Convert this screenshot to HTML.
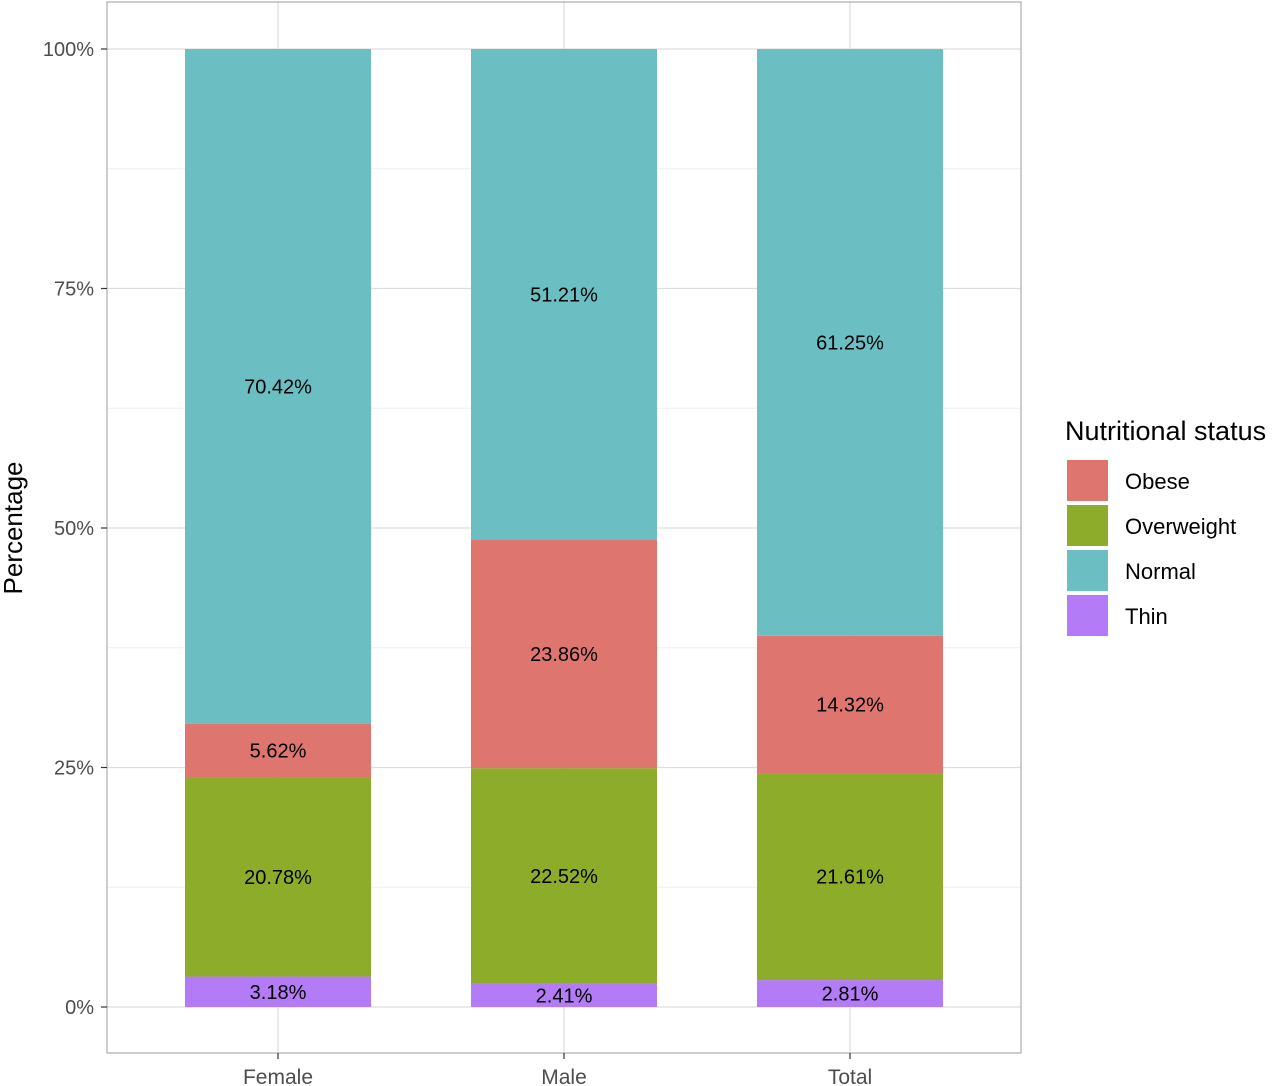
<!DOCTYPE html>
<html><head><meta charset="utf-8"><style>
body{margin:0;background:#fff;}
svg{display:block;font-family:"Liberation Sans",Arial,sans-serif;}
</style></head><body>
<svg id="chart" width="1280" height="1086">
<g id="grid"></g>
<g id="bars"></g>
<rect x="107" y="2" width="914" height="1051" fill="none" stroke="#b3b3b3" stroke-width="1.3"/>
<g id="axes"></g>
<text x="22" y="528" transform="rotate(-90 22 528)" text-anchor="middle" font-size="26" fill="#000">Percentage</text>
<g id="legend">
<text x="1065" y="440" font-size="27" fill="#000">Nutritional status</text>
</g>
</svg>
<script>
const categories=["Female","Male","Total"];
const seriesNames=["Thin","Overweight","Obese","Normal"];
const thin=[3.18,2.41,2.81];
const overweight=[20.78,22.52,21.61];
const obese=[5.62,23.86,14.32];
const normal=[70.42,51.21,61.25];
const yTicks=[0,25,50,75,100];
const yTickLabels=["0%","25%","50%","75%","100%"];
const legendOrder=["Obese","Overweight","Normal","Thin"];
const colors={Thin:"#b37bf5",Overweight:"#8dac2a",Obese:"#de766f",Normal:"#6bbec1"};
const NS="http://www.w3.org/2000/svg";
const y=v=>1007-v*9.58;
const x=i=>278+i*286;
const bw=186;
function mk(tag,attrs,parent){const e=document.createElementNS(NS,tag);for(const k in attrs)e.setAttribute(k,attrs[k]);parent.appendChild(e);return e;}
const grid=document.getElementById('grid'),bars=document.getElementById('bars'),axes=document.getElementById('axes'),legend=document.getElementById('legend');
for(let i=0;i<yTicks.length-1;i++){const m=(yTicks[i]+yTicks[i+1])/2;const l=mk('line',{x1:107,x2:1021,y1:y(m),y2:y(m),stroke:'#efefef','stroke-width':1},grid);

}
yTicks.forEach((t,i)=>{const l=mk('line',{x1:107,x2:1021,y1:y(t),y2:y(t),stroke:'#dedede','stroke-width':1.3},grid);


const tk=mk('line',{x1:101,x2:107,y1:y(t),y2:y(t),stroke:'#333','stroke-width':1.2},axes);


const tx=mk('text',{x:94,y:y(t)+7,'text-anchor':'end','font-size':20,fill:'#4d4d4d'},axes);
tx.textContent=yTickLabels[i];

});
categories.forEach((c,i)=>{const l=mk('line',{x1:x(i),x2:x(i),y1:2,y2:1053,stroke:'#dedede','stroke-width':1.3},grid);


const tk=mk('line',{x1:x(i),x2:x(i),y1:1053,y2:1059,stroke:'#333','stroke-width':1.2},axes);


const tx=mk('text',{x:x(i),y:1084,'text-anchor':'middle','font-size':21,fill:'#4d4d4d'},axes);
tx.textContent=c;

});
const series={Thin:thin,Overweight:overweight,Obese:obese,Normal:normal};
categories.forEach((c,i)=>{let base=0;seriesNames.forEach(s=>{const v=series[s][i];const top=base+v;
const r=mk('rect',{x:x(i)-bw/2,y:y(top),width:bw,height:y(base)-y(top),fill:colors[s]},bars);


const t=mk('text',{x:x(i),y:y(base+v/2)+7,'text-anchor':'middle','font-size':20,fill:'#000'},bars);
t.textContent=v.toFixed(2)+'%';


base=top;});});
legendOrder.forEach((s,i)=>{const yy=460+i*45;
const r=mk('rect',{x:1067,y:yy,width:41,height:41,fill:colors[s]},legend);


const t=mk('text',{x:1125,y:yy+29,'font-size':22,fill:'#000'},legend);
t.textContent=s;

});
</script>
</body></html>
